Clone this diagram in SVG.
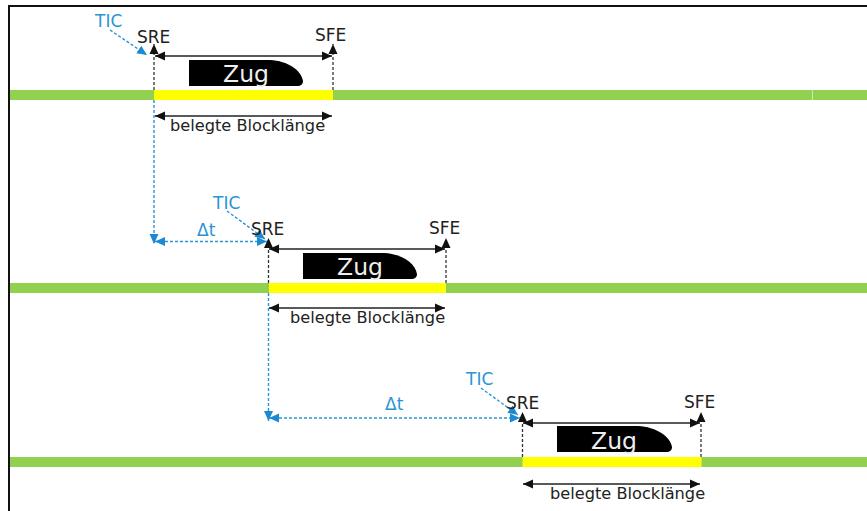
<svg xmlns="http://www.w3.org/2000/svg" width="867" height="511" viewBox="0 0 867 511">
<style>
text{font-family:"DejaVu Sans",Verdana,sans-serif;font-size:17px;fill:#222}
.len{font-size:16.2px}
.tic{fill:#2a94d6}
.zug{fill:#eee;font-size:23.5px}
.blk{fill:#000}
.trk{fill:#92d050}
.occ{fill:#ffff00}
.dim{stroke:#222;stroke-width:1.4;fill:none;marker-start:url(#as);marker-end:url(#ae)}
.up{stroke:#333;stroke-width:1.3;stroke-dasharray:3 2;fill:none;marker-end:url(#ae)}
.bl{stroke:#2a94d6;stroke-width:1.4;stroke-dasharray:3 2;fill:none}
.bla{marker-end:url(#be)}
.blb{marker-start:url(#bs);marker-end:url(#be)}
</style>
<defs>
<marker id="ae" markerUnits="userSpaceOnUse" markerWidth="11" markerHeight="11" refX="10" refY="5.5" orient="auto"><path d="M0 1L10 5.5L0 10z" fill="#111"/></marker>
<marker id="as" markerUnits="userSpaceOnUse" markerWidth="11" markerHeight="11" refX="0" refY="5.5" orient="auto"><path d="M10 1L0 5.5L10 10z" fill="#111"/></marker>
<marker id="be" markerUnits="userSpaceOnUse" markerWidth="11" markerHeight="11" refX="10" refY="5.5" orient="auto"><path d="M0 1L10 5.5L0 10z" fill="#1b8ad2"/></marker>
<marker id="bs" markerUnits="userSpaceOnUse" markerWidth="11" markerHeight="11" refX="0" refY="5.5" orient="auto"><path d="M10 1L0 5.5L10 10z" fill="#1b8ad2"/></marker>
</defs>
<rect width="867" height="511" fill="#fff"/>
<path d="M9 511V6H867" fill="none" stroke="#111" stroke-width="2"/>
<g id="track-1"><rect class="trk" x="10" y="90" width="857" height="10"/><rect x="812" y="90" width="1" height="10" fill="#cfe8ae"/></g>
<g id="track-2"><rect class="trk" x="10" y="283" width="857" height="10"/></g>
<g id="track-3"><rect class="trk" x="10" y="457" width="857" height="10"/></g>
<g id="block-1"><rect class="occ" x="154" y="90" width="179" height="10"/></g>
<g id="block-2"><rect class="occ" x="269" y="283" width="177" height="10"/></g>
<g id="block-3"><rect class="occ" x="522.500" y="457" width="179" height="10"/></g>
<g id="train-1"><path class="blk" d="M189 60H270C288 61 301 70 303 81C303 84 301 86 297 86H189z"/><text class="zug" x="246" y="82" text-anchor="middle">Zug</text></g>
<g id="train-2"><path class="blk" d="M303 253H384C402 254 415 263 417 274C417 277 415 279 411 279H303z"/><text class="zug" x="360" y="275" text-anchor="middle">Zug</text></g>
<g id="train-3"><path class="blk" d="M557 426H638C656 427 670 436 672 447C672 450 670 452 666 452H557z"/><text class="zug" x="614" y="449" text-anchor="middle">Zug</text></g>
<g id="connectors">
<path class="up" d="M154 90V44"/><path class="up" d="M333 90V44"/><path class="dim" d="M155 56L332 56"/><path class="dim" d="M155 116H332"/>
<path class="up" d="M268.500 283V238"/><path class="up" d="M446 283V238"/><path class="dim" d="M269 249L445 249"/><path class="dim" d="M269 308H445"/>
<path class="up" d="M522.500 457V412"/><path class="up" d="M701 457V412"/><path class="dim" d="M523 423L700 423"/><path class="dim" d="M523 484H700"/>
<path class="bl bla" d="M110 30L147 55"/><path class="bl bla" d="M154 100V244"/><path class="bl blb" d="M155 241.500H267"/><path class="bl bla" d="M227 211L265 239"/>
<path class="bl bla" d="M268.500 293V421"/><path class="bl blb" d="M269 418H520"/><path class="bl bla" d="M481 388L518 415"/>
</g>
<g id="labels">
<text class="tic" x="95" y="27">TIC</text><text x="137" y="43">SRE</text><text x="315" y="41">SFE</text><text class="len" x="170" y="131">belegte Blocklänge</text>
<text class="tic" x="213" y="209">TIC</text><text class="tic" x="197" y="236">Δt</text><text x="251" y="235">SRE</text><text x="429" y="234">SFE</text><text class="len" x="290" y="323">belegte Blocklänge</text>
<text class="tic" x="466" y="385">TIC</text><text class="tic" x="385" y="410">Δt</text><text x="506" y="409">SRE</text><text x="684" y="408">SFE</text><text class="len" x="550" y="499">belegte Blocklänge</text>
</g>
</svg>
